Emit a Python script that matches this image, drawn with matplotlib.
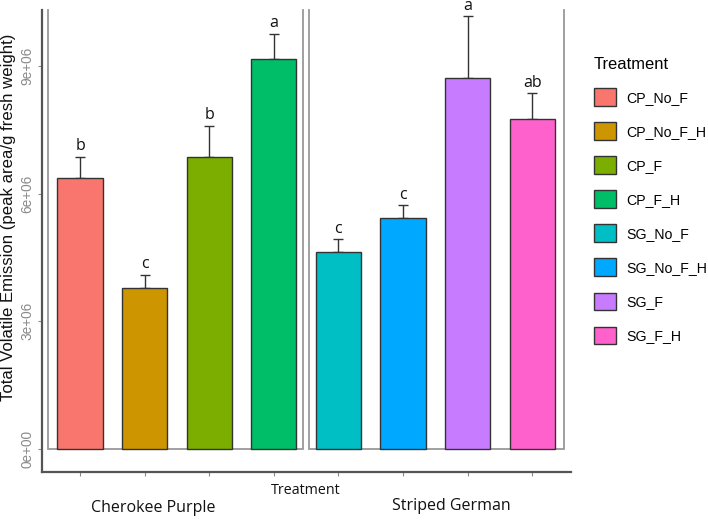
import matplotlib
matplotlib.use("Agg")
import matplotlib.pyplot as plt
from matplotlib.patches import Patch
import matplotlib.transforms as mtransforms

treatments = ["CP_No_F", "CP_No_F_H", "CP_F", "CP_F_H",
              "SG_No_F", "SG_No_F_H", "SG_F", "SG_F_H"]
means = [6.37e6, 3.79e6, 6.87e6, 9.16e6, 4.62e6, 5.42e6, 8.71e6, 7.75e6]
errors = [0.50e6, 0.31e6, 0.73e6, 0.60e6, 0.31e6, 0.31e6, 1.47e6, 0.61e6]
letters = ["b", "c", "b", "a", "c", "c", "a", "ab"]
colors = ["#F8766D", "#CD9600", "#7CAE00", "#00BE67",
          "#00BFC4", "#00A9FF", "#C77CFF", "#FF61CC"]
groups = ["Cherokee Purple", "Striped German"]
yticks = [0, 3e6, 6e6, 9e6]
ytick_labels = ["0e+00", "3e+06", "6e+06", "9e+06"]

fig = plt.figure(figsize=(7.08, 5.21), dpi=100)
W, H = 708, 521
ax = fig.add_axes([41.7 / W, 1 - 471.7 / H, (571 - 41.7) / W, (471.7 - 10) / H])

x = list(range(len(treatments)))
ax.bar(x, means, width=0.70, color=colors, edgecolor="#333333", linewidth=1.0, zorder=3)
ax.errorbar(x, means, yerr=[[0] * len(errors), errors], fmt="none",
            ecolor="#333333", elinewidth=1.0, capsize=3.5, capthick=1.0, zorder=2)
for xi, m, e, lab in zip(x, means, errors, letters):
    ax.annotate(lab, (xi, m + e), xytext=(0, 4.5), textcoords="offset points",
                ha="center", va="baseline", fontsize=11.5, family="Open Sans",
                color="#111111", annotation_clip=False)

ax.set_xlim(-0.593, 7.602)
ax.set_ylim(-0.533e6, 10.316e6)

# facet panel borders (left, right, bottom), open at the top
for (x0, x1) in [(-0.5, 3.46), (3.54, 7.49)]:
    ax.plot([x0, x0, x1, x1], [10.316e6, 0, 0, 10.316e6], color="#999999",
            lw=1.3, zorder=1, clip_on=False, solid_joinstyle="miter")

for s in ["top", "right"]:
    ax.spines[s].set_visible(False)
for s in ["left", "bottom"]:
    ax.spines[s].set_color("#555555")
    ax.spines[s].set_linewidth(1.6)

ax.set_yticks(yticks)
ax.set_yticklabels(ytick_labels, rotation=90, va="center", family="Liberation Sans",
                   fontsize=9.8, color="#8a8a8a")
ax.tick_params(axis="y", length=3, width=0.8, color="#8a8a8a", pad=2.5)
ax.set_xticks(x)
ax.set_xticklabels([""] * len(x))
ax.tick_params(axis="x", length=3, width=0.8, color="#8a8a8a", pad=1)

ax.set_ylabel("Total Volatile Emission (peak area/g fresh weight)",
              family="Liberation Sans", fontsize=12.1, color="#111111")
ax.yaxis.label.set_va("center")
ax.yaxis.set_label_coords(-0.0618, 0.5506)
ax.set_xlabel("Treatment", family="Open Sans", fontsize=10.3, color="#111111")
ax.xaxis.label.set_va("center")
ax.xaxis.set_label_coords(0.4993, -0.0411)

gtrans = mtransforms.blended_transform_factory(ax.transData, ax.transAxes)
for gx, gy, g in [(1.13, -0.0781, groups[0]), (5.75, -0.0737, groups[1])]:
    ax.text(gx, gy, g, transform=gtrans, ha="center", va="center",
            family="Open Sans", fontsize=11.5, color="#111111")

handles = [Patch(facecolor=c, edgecolor="#333333", linewidth=1.0) for c in colors]
leg = fig.legend(handles, treatments, title="Treatment", loc="upper left",
                 bbox_to_anchor=(594 / W, 1 - 57 / H), frameon=False,
                 prop={"family": "Liberation Sans", "size": 10.2},
                 title_fontproperties={"family": "Liberation Sans", "size": 11.9},
                 handlelength=1.55, handleheight=1.55, labelspacing=1.15,
                 handletextpad=0.7, borderpad=0, borderaxespad=0,
                 alignment="left")

fig.savefig("out.png", dpi=100)
